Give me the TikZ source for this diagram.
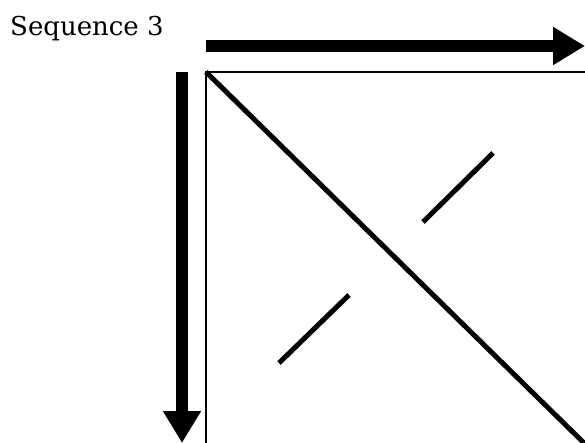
\documentclass[tikz,border=0pt]{standalone}
\usepackage{fontspec}
\setmainfont{DejaVu Serif}
\usetikzlibrary{arrows.meta,positioning}

\begin{document}
\begin{tikzpicture}[
  x=1pt,y=-1pt,
  seqarrow/.style={line width=12pt,-{Triangle[length=32pt,width=36pt]}},
  knotline/.style={line width=5pt},
  framebox/.style={draw,line width=2pt}
]
  \useasboundingbox (0,0) rectangle (585,443);
  \clip (0,0) rectangle (585,443);
  % Label
  \node[anchor=base west,inner sep=0pt,font=\fontsize{26}{30}\selectfont] (title) at (10,36) {Sequence 3};
  % Frame corners
  \coordinate (tl) at (206,72);
  \coordinate (br) at (586,446);
  \coordinate (hend) at (585,46);
  \coordinate (hstart) at (206,46);
  \coordinate (vstart) at (182,72);
  \coordinate (vend) at (182,443);
  % Arrows
  \draw[seqarrow] (hstart) -- (hend);
  \draw[seqarrow] (vstart) -- (vend);
  % Square
  \draw[framebox] (tl) rectangle (br);
  % Strands
  \coordinate (d2) at (585,444);
  \draw[knotline] (tl) -- (d2);
  \coordinate (a1) at (423,222);
  \coordinate (a2) at (493,153);
  \coordinate (b1) at (279,363);
  \coordinate (b2) at (349,295);
  \draw[knotline] (a1) -- (a2);
  \draw[knotline] (b1) -- (b2);
\end{tikzpicture}
\end{document}
